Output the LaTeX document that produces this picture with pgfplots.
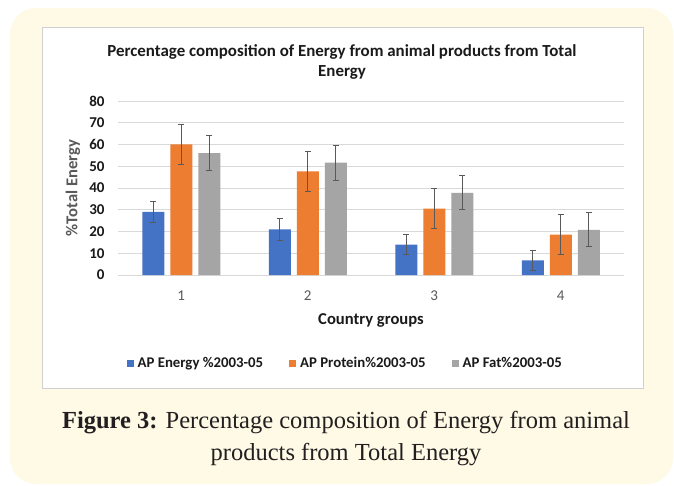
\documentclass[border=0pt]{standalone}
\usepackage{pgfplots}
\pgfplotsset{compat=1.18}
\usepackage{fontspec}
\setmainfont{Carlito}
\newfontfamily\capfont{Liberation Serif}
\definecolor{cream}{HTML}{FEFAE6}
\definecolor{cblue}{HTML}{4472C4}
\definecolor{corange}{HTML}{ED7D31}
\definecolor{cgray}{HTML}{A5A5A5}
\definecolor{errc}{HTML}{595959}
\definecolor{gridc}{HTML}{D9D9D9}
\definecolor{boxc}{HTML}{D0D0D0}
\definecolor{capc}{HTML}{231F20}
\definecolor{txtc}{HTML}{1A1A1A}
\begin{document}
\begin{tikzpicture}[x=1pt,y=1pt]
\useasboundingbox (0,0) rectangle (674,485);
\fill[cream, rounded corners=26pt] (10,1) rectangle (673,477);
\filldraw[fill=white, draw=boxc, line width=0.8pt] (42,97) rectangle (643,458);
\node[font=\fontsize{16.9}{20}\selectfont\bfseries, text=txtc] at (342,433) {Percentage composition of Energy from animal products from Total};
\node[font=\fontsize{16.9}{20}\selectfont\bfseries, text=txtc] at (342,413) {Energy};
\begin{axis}[
  at={(118pt,210pt)}, anchor=south west,
  width=506pt, height=174pt, scale only axis,
  ybar=6pt, bar width=22pt,
  xmin=0.5, xmax=4.5, ymin=0, ymax=80,
  xtick={1,2,3,4}, ytick={0,10,...,80},
  ymajorgrids, major grid style={gridc, line width=0.8pt},
  axis line style={draw=none}, major tick length=0pt,
  /pgf/number format/assume math mode=true,
  xticklabel style={font=\fontsize{15}{18}\selectfont, text=errc, yshift=-12pt},
  yticklabel style={font=\fontsize{15}{18}\selectfont\bfseries, text=txtc, xshift=-10pt},
  xlabel={Country groups},
  xlabel style={at={(axis description cs:0.5,-0.2586)}, anchor=center, font=\fontsize{16.6}{20}\selectfont\bfseries, text=txtc},
  ylabel={\%Total Energy},
  ylabel style={at={(axis description cs:-0.0889,0.5)}, anchor=center, font=\fontsize{16.6}{20}\selectfont\bfseries, text=errc},
  legend style={at={(axis description cs:0.449,-0.506)}, anchor=center, draw=none, fill=none,
    font=\fontsize{14.8}{18}\selectfont\bfseries, text=txtc,
    /tikz/every even column/.append style={column sep=24pt}},
  legend columns=3,
  legend image code/.code={\fill[#1] (0pt,-3.5pt) rectangle (7pt,3.5pt); \path (9pt,0pt);},
  error bars/y dir=both, error bars/y explicit,
  error bars/error bar style={errc, line width=0.9pt},
  error bars/error mark options={rotate=90, errc, mark size=3pt, line width=0.9pt},
]
\addplot[fill=cblue, draw=none] coordinates {(1,29) +- (0,4.8) (2,21) +- (0,5) (3,14) +- (0,4.6) (4,6.7) +- (0,4.7)};
\addplot[fill=corange, draw=none] coordinates {(1,60) +- (0,9.3) (2,47.7) +- (0,9.2) (3,30.5) +- (0,9.2) (4,18.6) +- (0,9.2)};
\addplot[fill=cgray, draw=none] coordinates {(1,56) +- (0,8.1) (2,51.7) +- (0,8) (3,37.8) +- (0,7.8) (4,20.8) +- (0,7.9)};
\legend{AP Energy \%2003-05, AP Protein\%2003-05, AP Fat\%2003-05}
\end{axis}
\node[font=\capfont\fontsize{24.5}{29}\selectfont, text=capc] at (346,62) {\textbf{Figure 3:} Percentage composition of Energy from animal};
\node[font=\capfont\fontsize{24.5}{29}\selectfont, text=capc] at (346,30) {products from Total Energy};
\end{tikzpicture}
\end{document}
